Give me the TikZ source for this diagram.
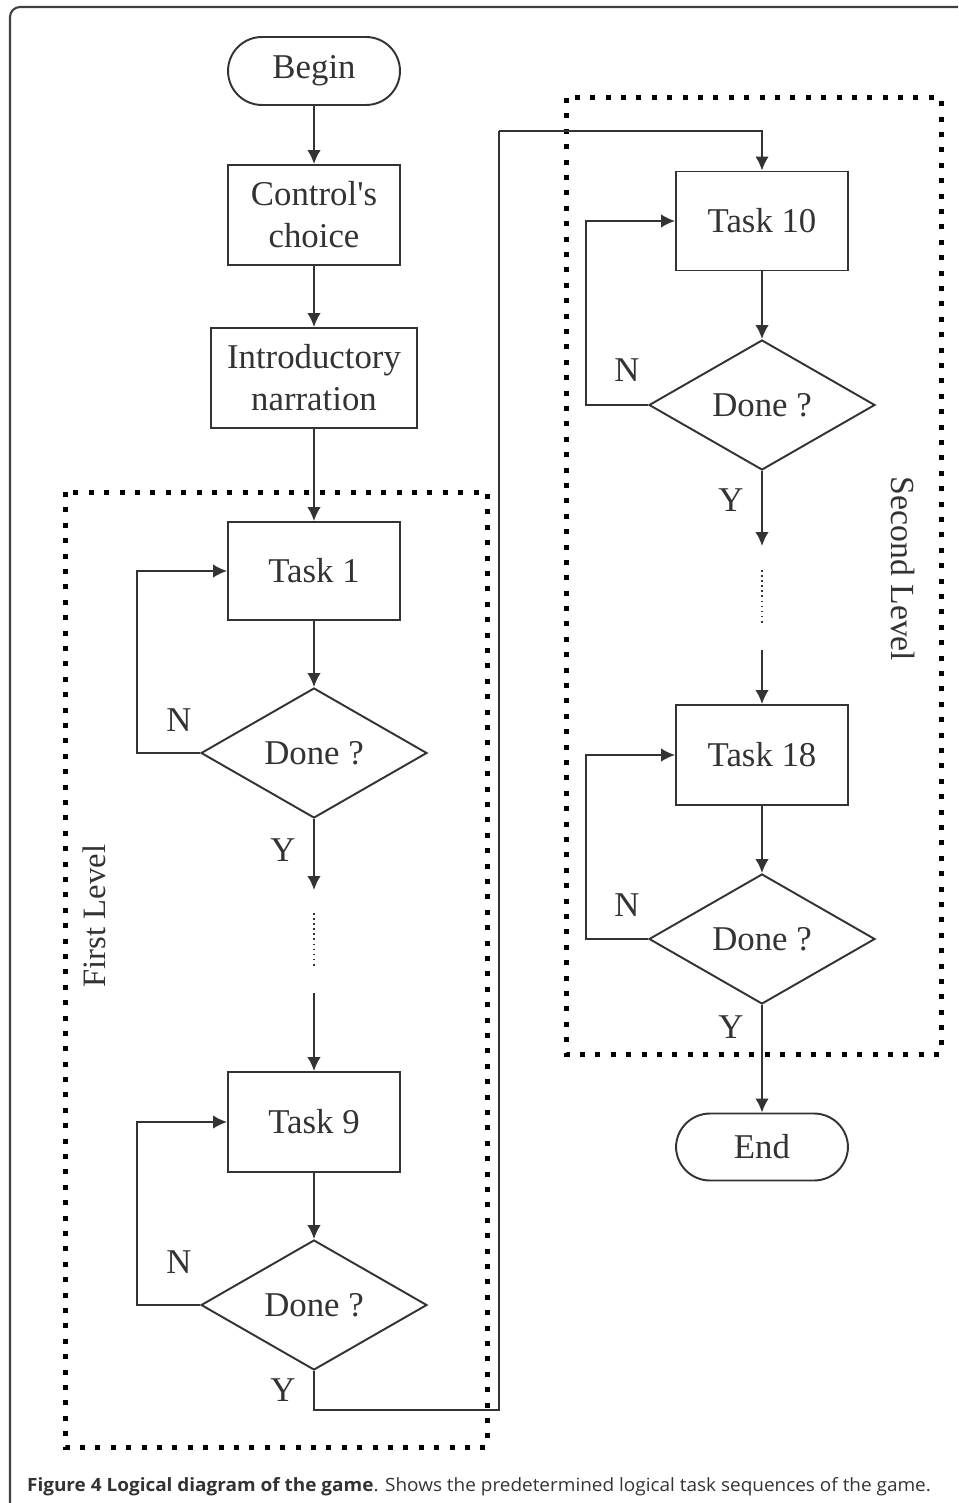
\documentclass[tikz,border=0pt]{standalone}
\usepackage{fontspec}
\setmainfont{Liberation Serif}
\newfontfamily\capfont{Open Sans}
\usetikzlibrary{arrows.meta,shapes.geometric}

\begin{document}
\begin{tikzpicture}[x=0.02cm,y=-0.02cm,>={Latex[length=2.8mm,width=2.7mm]},
	line width=1.1pt,color=black!80,
	font=\fontsize{19.8}{23.8}\selectfont,
	box/.style={draw,rectangle,minimum width=3.44cm,minimum height=2cm,align=center,inner sep=0pt},
	term/.style={draw,rectangle,rounded corners=0.68cm,minimum width=3.44cm,minimum height=1.36cm,inner sep=0pt},
	test/.style={draw,diamond,aspect=1.74,minimum width=4.52cm,minimum height=2.6cm,inner sep=0pt},
	levelbox/.style={line width=0.1cm,dash pattern=on 0.1cm off 0.208cm,color=black}]

\useasboundingbox (0,0) rectangle (958,1503);

\def\xa{314}
\def\xb{762}

% frame
\draw[line width=1.2pt,color=black!75,rounded corners=0.2cm] (10,1503) -- (10,7) -- (958,7);

% level boxes
\draw[levelbox] (65,492) rectangle (487,1447);
\draw[levelbox] (566,98) rectangle (941,1054);

\node[term] (begin) at (\xa,71) {Begin};
\node[box] (ctrl) at (\xa,215) {Control\textquotesingle s\\choice};
\node[box,minimum width=4.12cm] (intro) at (\xa,378) {Introductory\\narration};

\node[box,minimum height=1.96cm] (t1) at (\xa,571) {Task 1};
\node[test] (d1) at (\xa,753) {Done ?};
\node[box] (t9) at (\xa,1122) {Task 9};
\node[test] (d2) at (\xa,1305) {Done ?};

\node[box,minimum height=1.98cm] (t10) at (\xb,221) {Task 10};
\node[test] (d3) at (\xb,405) {Done ?};
\node[box] (t18) at (\xb,755) {Task 18};
\node[test] (d4) at (\xb,939) {Done ?};
\node[term,minimum height=1.34cm] (end) at (\xb,1147) {End};

\node (n1) at (179,720) {N};
\node (y1) at (283,850) {Y};
\node (n2) at (179,1262) {N};
\node (y2) at (283,1390) {Y};
\node (n3) at (627,370) {N};
\node (y3) at (731,500) {Y};
\node (n4) at (627,905) {N};
\node (y4) at (731,1027) {Y};

\node[rotate=90,font=\fontsize{18.6}{22}\selectfont] (lev1) at (94,916) {First Level};
\node[rotate=-90,font=\fontsize{19.2}{22}\selectfont] (lev2) at (903,569) {Second Level};

\coordinate (loopA) at (137,0);
\coordinate (loopB) at (586,0);
\coordinate (gap1a) at (\xa,890);
\coordinate (dots1a) at (\xa,913);
\coordinate (dots1b) at (\xa,968);
\coordinate (gap1b) at (\xa,993);
\coordinate (gap2a) at (\xb,546);
\coordinate (dots2a) at (\xb,570);
\coordinate (dots2b) at (\xb,625);
\coordinate (gap2b) at (\xb,650);
\coordinate (turnA) at (499,1410);
\coordinate (turnB) at (499,131);

\draw[->] (begin) -- (ctrl);
\draw[->] (ctrl) -- (intro);
\draw[->] (intro) -- (t1);
\draw[->] (t1) -- (d1);
\draw[->] (d1.west) -- (d1.west -| loopA) |- (t1.west);
\draw[->] (d1.south) -- (gap1a);
\draw[dotted,line width=0.9pt] (dots1a) -- (dots1b);
\draw[->] (gap1b) -- (t9);
\draw[->] (t9) -- (d2);
\draw[->] (d2.west) -- (d2.west -| loopA) |- (t9.west);
\draw (d2.south) |- (turnA) -- (turnB);
\draw[->] (turnB) -| (t10.north);

\draw[->] (t10) -- (d3);
\draw[->] (d3.west) -- (d3.west -| loopB) |- (t10.west);
\draw[->] (d3.south) -- (gap2a);
\draw[dotted,line width=0.9pt] (dots2a) -- (dots2b);
\draw[->] (gap2b) -- (t18);
\draw[->] (t18) -- (d4);
\draw[->] (d4.west) -- (d4.west -| loopB) |- (t18.west);
\draw[->] (d4) -- (end);

\node[color=black!80,font=\capfont\fontsize{10.2}{12}\selectfont] (caption) at (479,1487)
	{\resizebox{18.08cm}{0.28cm}{\textbf{Figure 4 Logical diagram of the game}. Shows the predetermined logical task sequences of the game.}};

\end{tikzpicture}
\end{document}
